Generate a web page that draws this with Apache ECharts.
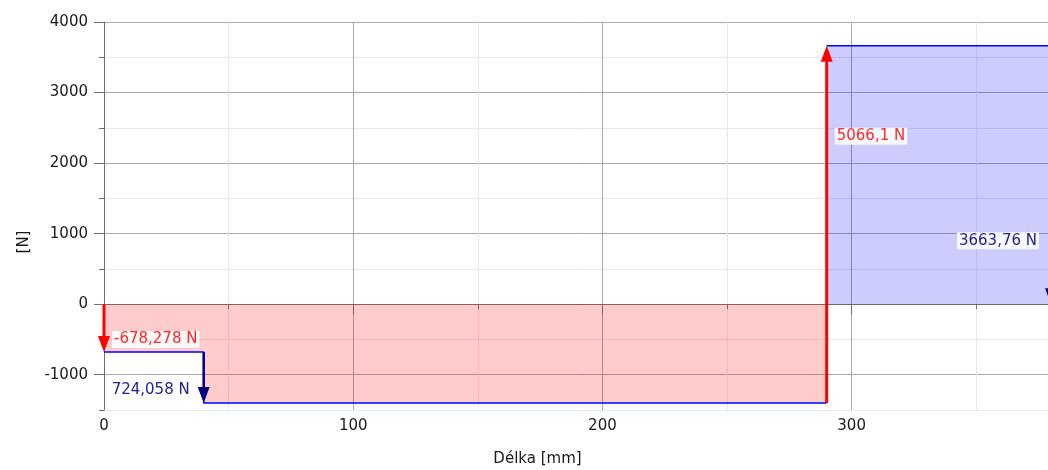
<!DOCTYPE html>
<html>
<head>
<meta charset="utf-8">
<script src="https://cdn.jsdelivr.net/npm/echarts@6/dist/echarts.min.js"></script>
<style>
  html, body { margin: 0; padding: 0; background: #fff; }
  #chart { width: 1048px; height: 470px; }
</style>
</head>
<body>
<div id="chart"></div>
<script>
// beam loads (position mm, force N)
const forcePos = [0, 40, 290, 380];
const forceVal = [-678.278, -724.058, 5066.1, -3663.76];
const forceText = ['-678,278 N', '724,058 N', '5066,1 N', '3663,76 N'];
const forceKind = ['reaction', 'load', 'reaction', 'load'];

const xTicks = [0, 100, 200, 300];
const yTicks = [-1000, 0, 1000, 2000, 3000, 4000];

// label placement (value on y axis where the label sits, side of arrow)
const labelAt = [-500, -1215, 2380, 900];
const labelSide = ['right', 'left', 'right', 'left'];

const RED = '#ff0000';
const NAVY = '#000080';
const FONT = '15px "DejaVu Sans"';
const X_MAX = 380;

// shear levels after each force
const arrows = [];
let shear = 0;
forcePos.forEach((x, i) => {
  arrows.push([x, shear, shear + forceVal[i], i]);
  shear += forceVal[i];
});
const negData = [];
const posData = [];
for (let i = 0; i < forcePos.length - 1; i++) {
  const v = arrows[i][2];
  const seg = v < 0 ? negData : posData;
  seg.push([forcePos[i], v], [forcePos[i + 1], v]);
}

const chart = echarts.init(document.getElementById('chart'));

const axisLabelStyle = { color: '#1a1a1a', fontFamily: 'DejaVu Sans', fontSize: 15 };

chart.setOption({
  animation: false,
  grid: { left: 104, top: 22, right: -3, bottom: 60, outerBoundsMode: 'none' },
  xAxis: [
    {
      type: 'value', min: 0, max: X_MAX, interval: 50,
      name: 'Délka [mm]', nameLocation: 'middle', nameGap: 42,
      nameTextStyle: { color: '#1a1a1a', fontFamily: 'DejaVu Sans', fontSize: 15, padding: [0, 80, 0, 0] },
      axisLine: { lineStyle: { color: '#707070', width: 1 } },
      axisTick: { length: 5, lineStyle: { color: '#707070' } },
      axisLabel: Object.assign({ margin: 9, formatter: v => (xTicks.includes(v) ? String(v) : '') }, axisLabelStyle),
      splitLine: { show: true, lineStyle: { color: ['#a8a8a8', '#e8e8e8'], width: 1 } }
    },
    {
      type: 'value', min: 0, max: X_MAX, position: 'bottom',
      axisLine: { show: false },
      axisTick: { show: true, length: 10, customValues: xTicks, lineStyle: { color: '#707070' } },
      axisLabel: { show: false },
      splitLine: { show: false }
    }
  ],
  yAxis: [
    {
      type: 'value', min: -1500, max: 4000, interval: 500,
      name: '[N]', nameLocation: 'middle', nameGap: 72, nameRotate: 90,
      nameTextStyle: { color: '#1a1a1a', fontFamily: 'DejaVu Sans', fontSize: 15, padding: [0, 52, 0, 0] },
      axisLine: { show: true, lineStyle: { color: '#707070', width: 1 } },
      axisTick: { show: true, length: 5, lineStyle: { color: '#707070' } },
      axisLabel: Object.assign({ margin: 16, formatter: v => (yTicks.includes(v) ? String(v) : '') }, axisLabelStyle),
      splitLine: { show: true, lineStyle: { color: ['#e8e8e8', '#a8a8a8'], width: 1 } }
    },
    {
      type: 'value', min: -1500, max: 4000, position: 'left',
      axisLine: { show: false },
      axisTick: { show: true, length: 10, customValues: yTicks, lineStyle: { color: '#707070' } },
      axisLabel: { show: false },
      splitLine: { show: false }
    }
  ],
  series: [
    {
      type: 'line', data: negData, symbol: 'none',
      lineStyle: { color: '#0000ff', width: 1.5 },
      areaStyle: { color: 'rgba(255,0,0,0.2)', opacity: 1, origin: 0 },
      z: 2
    },
    {
      type: 'line', data: posData, symbol: 'none',
      lineStyle: { color: '#0000ff', width: 1.5 },
      areaStyle: { color: 'rgba(0,0,255,0.2)', opacity: 1, origin: 0 },
      z: 2
    },
    {
      type: 'custom',
      data: arrows,
      clip: false,
      z: 5,
      renderItem: function (params, api) {
        const i = api.value(3);
        const p0 = api.coord([api.value(0), api.value(1)]);
        const p1 = api.coord([api.value(0), api.value(2)]);
        const dir = p1[1] > p0[1] ? 1 : -1;
        const color = forceKind[i] === 'reaction' ? RED : NAVY;
        const headL = 16, headW = 6;
        const lp = api.coord([api.value(0), labelAt[i]]);
        const right = labelSide[i] === 'right';
        return {
          type: 'group',
          children: [
            {
              type: 'line',
              shape: { x1: p0[0], y1: p0[1], x2: p1[0], y2: p1[1] - dir * headL + dir },
              style: { stroke: color, lineWidth: forceKind[i] === 'reaction' ? 3 : 2.5 }
            },
            {
              type: 'polygon',
              shape: { points: [[p1[0], p1[1]], [p1[0] - headW, p1[1] - dir * headL], [p1[0] + headW, p1[1] - dir * headL]] },
              style: { fill: color }
            },
            {
              type: 'text',
              x: right ? lp[0] + 8 : lp[0] - 12,
              y: lp[1],
              style: {
                text: forceText[i],
                font: FONT,
                fill: forceKind[i] === 'reaction' ? '#ff2a2a' : '#23238f',
                align: right ? 'left' : 'right',
                verticalAlign: 'middle',
                backgroundColor: 'rgba(255,255,255,0.85)',
                padding: [1, 2, 1, 2]
              }
            }
          ]
        };
      }
    }
  ]
});
</script>
</body>
</html>
